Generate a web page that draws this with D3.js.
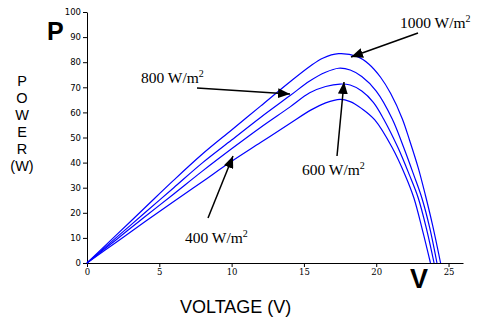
<!DOCTYPE html>
<html>
<head>
<script src="https://d3js.org/d3.v7.min.js"></script>
<style>
body { margin: 0; background: #fff; }
</style>
</head>
<body>
<div id="chart"></div>
<script>
var width = 480;
var height = 320;

// curves: [voltage, power]
var irr1000 = [[0,0],[2,11],[4,22],[6,33],[8,43.5],[10,53],[12,62.5],[14,72],[15.4,78.3],[16.3,81.6],[17.4,83.4],[18.7,82.2],[19.5,79.2],[20.3,74],[21,67.5],[21.8,57.5],[22.3,49],[22.9,38],[23.4,27],[23.9,15],[24.45,0]];
var irr800 = [[0,0],[2,10],[4,20],[6,30],[8,40],[10,49],[12,58],[14,66.5],[15.4,72.5],[16.5,76],[17.4,77.6],[18.2,76.9],[19,74.3],[20,68.5],[21.1,57.5],[21.9,46],[22.6,35],[23.15,26],[23.7,14],[24.2,0]];
var irr600 = [[0,0],[2,9.2],[4,18.4],[6,27.5],[8,36.7],[10,45.5],[12,54],[14,62],[15.4,67.8],[16.5,70.3],[17.5,71.3],[18.2,70.9],[19,68.5],[19.8,64],[20.5,57.5],[21.5,46],[22.3,35],[22.9,26],[23.5,13],[24,0]];
var irr400 = [[0,0],[2,8.2],[4,16.4],[6,24.5],[8,32.5],[10,40.5],[12,48],[14,55.5],[15.5,61],[16.5,63.8],[17.5,65.2],[18.2,64.3],[19,61.5],[19.9,57],[21.1,46],[22,35],[22.6,26],[23.2,13],[23.75,0]];

var xTicks = [0, 5, 10, 15, 20, 25];
var yTicks = [0, 10, 20, 30, 40, 50, 60, 70, 80, 90, 100];

var svg = d3.select("#chart")
  .append("svg")
  .attr("width", width)
  .attr("height", height)
  .style("font-family", "Liberation Sans, Arial, sans-serif");

var x = d3.scaleLinear().domain([0, 26]).range([87, 463]);
var y = d3.scaleLinear().domain([0, 100]).range([263, 12]);

// axes
var xAxis = svg.append("g")
  .attr("transform", "translate(0," + y(0) + ")")
  .call(d3.axisBottom(x).tickValues(xTicks).tickSize(4).tickSizeOuter(0).tickPadding(2));
xAxis.selectAll("text")
  .style("font-family", "DejaVu Serif, serif")
  .style("font-size", "8.5px")
  .attr("fill", "#000");

var yAxis = svg.append("g")
  .attr("transform", "translate(" + x(0) + ",0)")
  .call(d3.axisLeft(y).tickValues(yTicks).tickSize(4).tickSizeOuter(0).tickPadding(2));
yAxis.selectAll("text")
  .style("font-family", "DejaVu Sans, sans-serif")
  .style("font-size", "8.5px")
  .attr("fill", "#000");

svg.selectAll(".domain, .tick line").attr("stroke", "#000");

// curves
var line = d3.line()
  .x(function(d) { return x(d[0]); })
  .y(function(d) { return y(d[1]); })
  .curve(d3.curveCatmullRom.alpha(0.5));

svg.append("g")
  .selectAll("path")
  .data([irr1000, irr800, irr600, irr400])
  .enter().append("path")
  .attr("d", line)
  .attr("fill", "none")
  .attr("stroke", "#0000ff")
  .attr("stroke-width", 1.2);

// arrow head
svg.append("defs").append("marker")
  .attr("id", "head")
  .attr("markerUnits", "userSpaceOnUse")
  .attr("viewBox", "0 0 12 10")
  .attr("refX", 12)
  .attr("refY", 5)
  .attr("markerWidth", 12)
  .attr("markerHeight", 10)
  .attr("orient", "auto")
  .append("path")
  .attr("d", "M0,0L12,5L0,10Z")
  .attr("fill", "#000");

var arrows = [
  [418, 33, 351, 57],
  [197, 88, 290, 94],
  [337, 156, 344, 82],
  [208, 218, 233, 156]
];
svg.append("g")
  .selectAll("line")
  .data(arrows)
  .enter().append("line")
  .attr("x1", function(d) { return d[0]; })
  .attr("y1", function(d) { return d[1]; })
  .attr("x2", function(d) { return d[2]; })
  .attr("y2", function(d) { return d[3]; })
  .attr("stroke", "#000")
  .attr("stroke-width", 1.5)
  .attr("marker-end", "url(#head)");

// irradiance labels
var labels = [
  ["1000", 400, 28],
  ["800", 141, 83],
  ["600", 302, 175],
  ["400", 185, 243]
];
labels.forEach(function(l) {
  var t = svg.append("text")
    .attr("x", l[1])
    .attr("y", l[2])
    .style("font-family", "Liberation Serif, Times New Roman, serif")
    .style("font-size", "15.5px")
    .attr("fill", "#000")
    .text(l[0] + " W/m");
  t.append("tspan")
    .attr("dy", -6)
    .style("font-size", "10px")
    .text("2");
});

// axis titles
svg.append("text")
  .attr("x", 47)
  .attr("y", 40)
  .style("font-size", "25px")
  .style("font-weight", "bold")
  .text("P");

svg.append("text")
  .attr("x", 419)
  .attr("y", 288)
  .attr("text-anchor", "middle")
  .style("font-size", "27px")
  .style("font-weight", "bold")
  .text("V");

svg.append("text")
  .attr("x", 180)
  .attr("y", 313)
  .style("font-size", "18px")
  .text("VOLTAGE (V)");

var power = ["P", "O", "W", "E", "R", "(W)"];
svg.append("g")
  .selectAll("text")
  .data(power)
  .enter().append("text")
  .attr("x", 22)
  .attr("y", function(d, i) { return 86 + i * 17; })
  .attr("text-anchor", "middle")
  .style("font-size", "14.5px")
  .text(function(d) { return d; });
</script>
</body>
</html>
